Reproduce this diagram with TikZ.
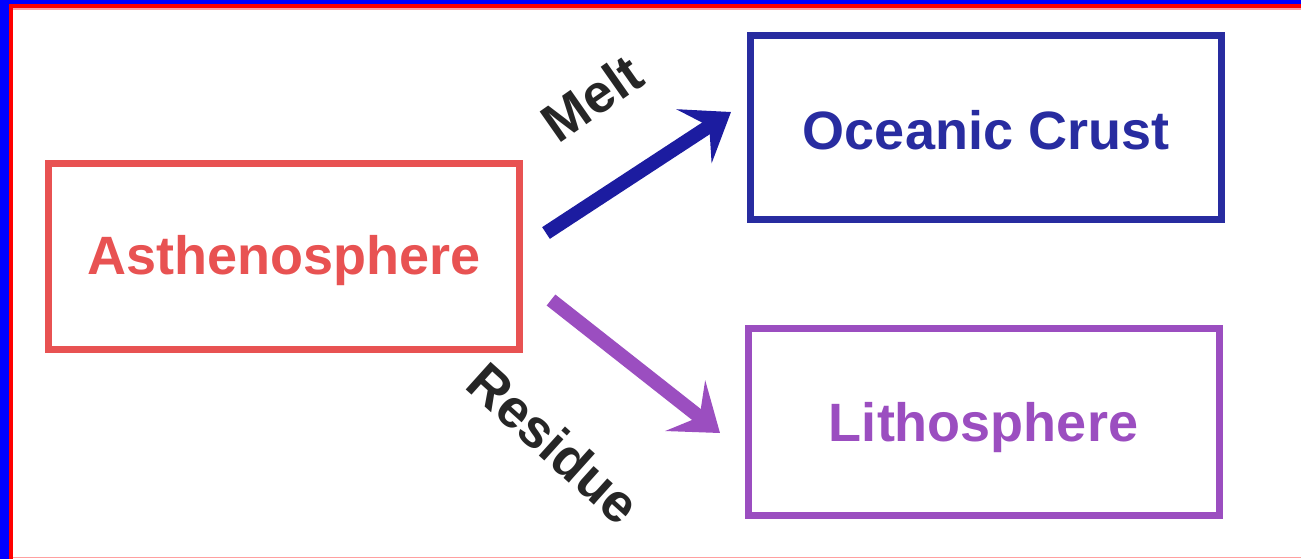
\documentclass[tikz,border=0pt]{standalone}
\usepackage{fontspec}
\setmainfont{Liberation Sans}
\usetikzlibrary{arrows.meta}
\definecolor{boxred}{RGB}{232,82,82}
\definecolor{boxblue}{RGB}{40,44,160}
\definecolor{arrblue}{RGB}{28,28,160}
\definecolor{boxpurple}{RGB}{155,78,192}
\definecolor{framepink}{RGB}{255,160,160}
\newcommand{\lowertext}[2]{\raisebox{-#1}[\height][\depth]{#2}}
\tikzset{
  box/.style={draw, line width=3.5pt, minimum width=235.5pt, minimum height=93pt,
    font=\fontsize{27}{32}\selectfont\bfseries, inner sep=0pt},
  lbl/.style={font=\fontsize{27}{32}\selectfont\bfseries, text=black!85, inner sep=0pt},
  bigarrow/.style={line width=7pt, -{Stealth[length=22pt, width=32pt, inset=9pt]}},
}
\begin{document}
\begin{tikzpicture}[x=0.5pt,y=-0.5pt]
\useasboundingbox (0,0) rectangle (1301,559);
% frame
\fill[blue] (0,0) rectangle (1301,4);
\fill[blue] (0,0) rectangle (9,559);
\fill[red] (9,4) rectangle (1301,8);
\fill[red] (9,4) rectangle (13,559);
\fill[framepink] (13,8) rectangle (1301,9.5);
\fill[framepink] (13,556.5) rectangle (1301,558);
% boxes
\node[box, draw=boxred, text=boxred, minimum height=93pt] (ast) at (284,256) {\lowertext{2.5pt}{Asthenosphere}};
\node[box, draw=boxblue, text=boxblue, minimum height=92pt] (oc) at (986,127) {\lowertext{1.5pt}{Oceanic Crust}};
\node[box, draw=boxpurple, text=boxpurple, minimum height=93.5pt] (lith) at (983.5,421.5) {\lowertext{3pt}{Lithosphere}};
% arrows
\coordinate (m1) at (546,233);
\coordinate (m2) at (731,112);
\coordinate (r1) at (551,300);
\coordinate (r2) at (720,433);
\draw[bigarrow, arrblue] (m1) -- (m2);
\draw[bigarrow, boxpurple] (r1) -- (r2);
% labels
\node[lbl, rotate=35] (melt) at (592,98) {Melt};
\node[lbl, rotate=-42] (res) at (554,443) {Residue};
\end{tikzpicture}
\end{document}
